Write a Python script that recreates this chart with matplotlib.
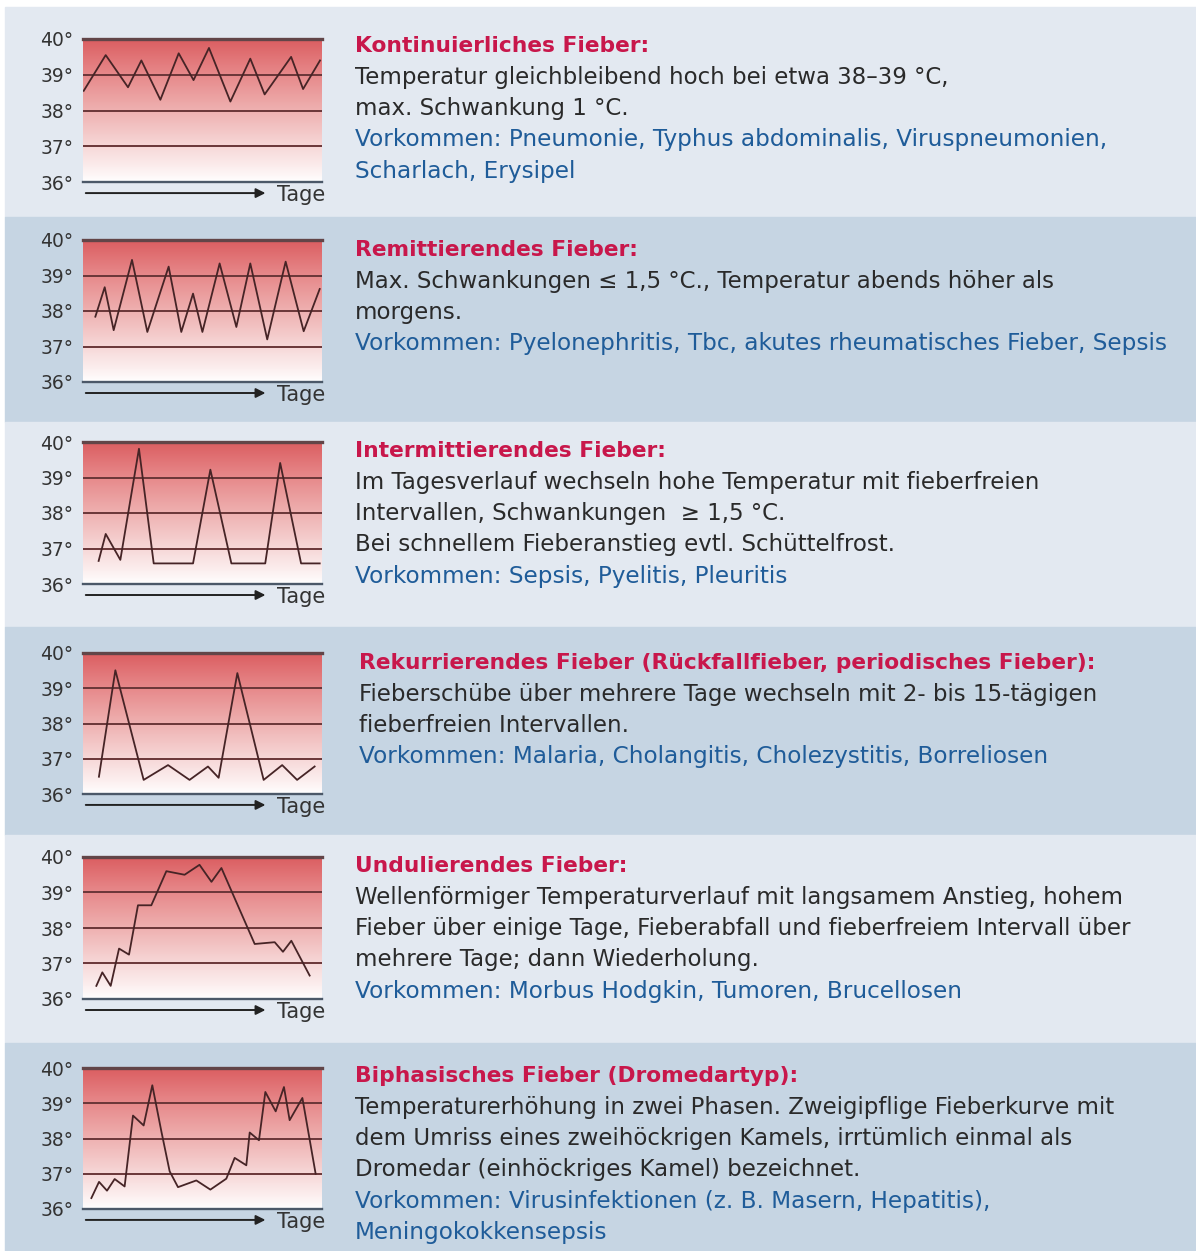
import numpy as np
import matplotlib.pyplot as plt
from matplotlib.colors import LinearSegmentedColormap
from matplotlib.patches import Rectangle

W, H = 1196, 1251

# Fieberkurven: Tage (0..24 ueber die Kastenbreite) und Temperatur in °C
tage_kont = [0.07, 2.28, 4.52, 5.86, 7.77, 9.61, 11.1, 12.65, 14.8, 16.8, 18.24, 20.9, 22.1, 23.8]
temp_kont = [38.55, 39.55, 38.65, 39.4, 38.3, 39.6, 38.85, 39.75, 38.25, 39.45, 38.45, 39.5, 38.6, 39.4]

tage_remit = [1.24, 2.18, 3.08, 4.92, 6.46, 8.6, 9.87, 11.05, 11.99, 13.72, 15.4, 16.8, 18.5, 20.35, 22.16, 23.77]
temp_remit = [37.84, 38.67, 37.46, 39.44, 37.41, 39.25, 37.41, 38.49, 37.41, 39.34, 37.55, 39.34, 37.2, 39.39, 37.43, 38.62]

tage_inter = [1.57, 2.28, 3.75, 5.62, 7.1, 11.05, 12.79, 14.9, 18.3, 19.8, 21.9, 23.77]
temp_inter = [36.65, 37.41, 36.68, 39.81, 36.58, 36.58, 39.22, 36.58, 36.58, 39.41, 36.58, 36.58]

tage_rekur = [1.6, 3.25, 6.09, 8.54, 10.7, 12.55, 13.62, 15.5, 18.14, 20.0, 21.5, 23.26]
temp_rekur = [36.49, 39.51, 36.4, 36.82, 36.4, 36.78, 36.46, 39.43, 36.4, 36.82, 36.4, 36.78]

tage_undul = [1.34, 1.94, 2.78, 3.62, 4.62, 5.52, 6.86, 8.37, 10.2, 11.7, 12.9, 13.9, 17.24, 19.25, 20.08, 20.92, 22.76]
temp_undul = [36.37, 36.75, 36.37, 37.42, 37.25, 38.64, 38.64, 39.6, 39.5, 39.78, 39.3, 39.69, 37.55, 37.6, 37.33, 37.64, 36.66]

tage_bipha = [0.84, 1.61, 2.41, 3.18, 4.18, 5.02, 6.09, 6.96, 7.87, 8.7, 9.54, 11.38, 12.79, 14.39,
              15.23, 16.4, 16.74, 17.67, 18.31, 19.35, 20.18, 20.75, 22.03, 23.36]
temp_bipha = [36.31, 36.77, 36.52, 36.85, 36.64, 38.65, 38.37, 39.51, 38.2, 37.07, 36.62, 36.81, 36.55, 36.86,
              37.45, 37.24, 38.17, 37.95, 39.32, 38.77, 39.46, 38.52, 39.15, 37.0]

titel = ["Kontinuierliches Fieber:",
         "Remittierendes Fieber:",
         "Intermittierendes Fieber:",
         "Rekurrierendes Fieber (Rückfallfieber, periodisches Fieber):",
         "Undulierendes Fieber:",
         "Biphasisches Fieber (Dromedartyp):"]

beschreibung = [
    ["Temperatur gleichbleibend hoch bei etwa 38–39 °C,", "max. Schwankung 1 °C."],
    ["Max. Schwankungen ≤ 1,5 °C., Temperatur abends höher als", "morgens."],
    ["Im Tagesverlauf wechseln hohe Temperatur mit fieberfreien",
     "Intervallen, Schwankungen  ≥ 1,5 °C.",
     "Bei schnellem Fieberanstieg evtl. Schüttelfrost."],
    ["Fieberschübe über mehrere Tage wechseln mit 2- bis 15-tägigen", "fieberfreien Intervallen."],
    ["Wellenförmiger Temperaturverlauf mit langsamem Anstieg, hohem",
     "Fieber über einige Tage, Fieberabfall und fieberfreiem Intervall über",
     "mehrere Tage; dann Wiederholung."],
    ["Temperaturerhöhung in zwei Phasen. Zweigipflige Fieberkurve mit",
     "dem Umriss eines zweihöckrigen Kamels, irrtümlich einmal als",
     "Dromedar (einhöckriges Kamel) bezeichnet."],
]

vorkommen = [
    ["Vorkommen: Pneumonie, Typhus abdominalis, Viruspneumonien,", "Scharlach, Erysipel"],
    ["Vorkommen: Pyelonephritis, Tbc, akutes rheumatisches Fieber, Sepsis"],
    ["Vorkommen: Sepsis, Pyelitis, Pleuritis"],
    ["Vorkommen: Malaria, Cholangitis, Cholezystitis, Borreliosen"],
    ["Vorkommen: Morbus Hodgkin, Tumoren, Brucellosen"],
    ["Vorkommen: Virusinfektionen (z. B. Masern, Hepatitis),", "Meningokokkensepsis"],
]

kurven = [(tage_kont, temp_kont), (tage_remit, temp_remit), (tage_inter, temp_inter),
          (tage_rekur, temp_rekur), (tage_undul, temp_undul), (tage_bipha, temp_bipha)]

grad = [36, 37, 38, 39, 40]
grad_labels = ["36°", "37°", "38°", "39°", "40°"]

# Layout (Pixel)
band_kanten = [7, 217, 422, 627, 835, 1043, 1251]
band_farben = ["#e3e9f1", "#c6d5e3"]
y40 = [39, 240, 442, 653, 857, 1068]
y36 = [182, 382, 584, 794, 999, 1209]
titel_y = [46, 250, 451, 663, 866, 1076]
text_x = [355, 355, 355, 359, 355, 355]
zeilen_abstand = 31.3


def fx(px):
    return px / W


def fy(py):
    return 1 - py / H


fig = plt.figure(figsize=(W / 100, H / 100), dpi=100)
fig.patch.set_facecolor("white")
plt.rcParams["font.family"] = ["DejaVu Sans"]

for i in range(6):
    top, bot = band_kanten[i], band_kanten[i + 1]
    fig.add_artist(Rectangle((fx(5), fy(bot)), 1 - fx(5), (bot - top) / H,
                             transform=fig.transFigure, color=band_farben[i % 2], zorder=0))

rot = LinearSegmentedColormap.from_list(
    "fieber", [(0, "#ffffff"), (0.06, "#fdf4f4"), (0.3, "#f5d0d0"), (0.55, "#eda9a9"),
               (0.8, "#e58183"), (1, "#db5e61")])
grad_bild = np.linspace(0, 1, 256).reshape(-1, 1)

for i, (tage, temp) in enumerate(kurven):
    ax = fig.add_axes([fx(83), fy(y36[i]), fx(322) - fx(83), (y36[i] - y40[i]) / H])
    ax.set_facecolor("none")
    ax.imshow(grad_bild, extent=[0, 24, 36, 40], origin="lower", aspect="auto", cmap=rot, zorder=0)
    ax.set_xlim(0, 24)
    ax.set_ylim(36, 40)
    for g in [37, 38, 39]:
        ax.axhline(g, color="#6a3638", lw=1.4, zorder=2)
    ax.axhline(40, color="#624548", lw=2.4, zorder=2, clip_on=False)
    ax.axhline(36, color="#4b5868", lw=1.7, zorder=2, clip_on=False)
    ax.plot(tage, temp, color="#462426", lw=1.3, zorder=3)
    for s in ax.spines.values():
        s.set_visible(False)
    ax.set_xticks([])
    ax.set_yticks(grad)
    ax.set_yticklabels(grad_labels)
    ax.tick_params(axis="y", length=0, pad=7, labelsize=13.5, labelcolor="#333333")
    ax.annotate("", xy=(18.6, 35.69), xytext=(0, 35.69),
                arrowprops=dict(arrowstyle="-|>", color="#222222", lw=1.4, mutation_scale=14),
                annotation_clip=False)
    ax.text(19.5, 35.64, "Tage", fontsize=15, color="#333333", va="center", ha="left", clip_on=False)

    # Beschreibung rechts
    y = titel_y[i]
    fig.text(fx(text_x[i]), fy(y), titel[i], color="#c8174b", fontweight="bold",
             fontsize=15.7, va="center", ha="left")
    for zeile in beschreibung[i]:
        y += zeilen_abstand
        fig.text(fx(text_x[i]), fy(y), zeile, color="#2a2a2a", fontsize=16.5, va="center", ha="left")
    for zeile in vorkommen[i]:
        y += zeilen_abstand
        fig.text(fx(text_x[i]), fy(y), zeile, color="#1f5c99", fontsize=16.7, va="center", ha="left")

fig.savefig("out.png", dpi=100)
plt.close(fig)
